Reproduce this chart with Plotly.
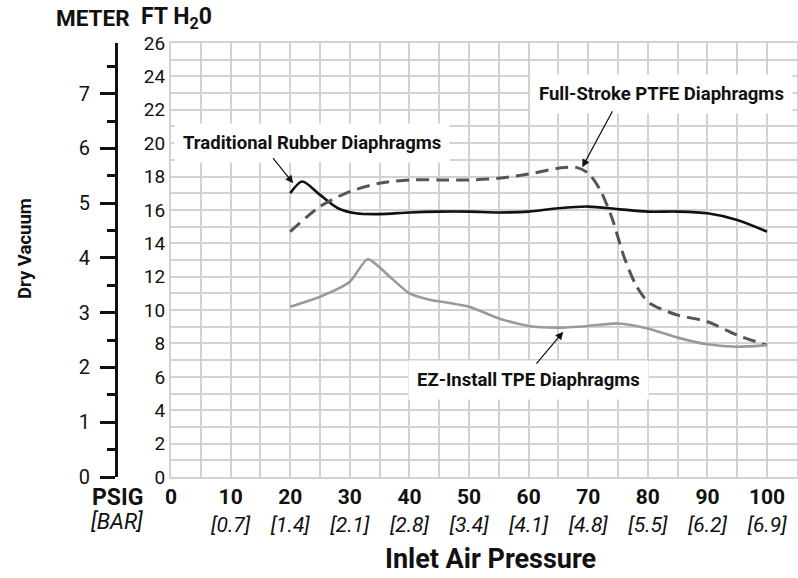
import plotly.graph_objects as go

FONT = "Roboto, Liberation Sans, sans-serif"

# ---- data (x = inlet air pressure, PSIG; y = dry vacuum, FT H2O) ----
rubber_psig = [20, 22, 25, 28, 31, 35, 40, 45, 50, 55, 60, 65, 70, 75, 80, 85, 90, 95, 100]
rubber_ft = [17.0, 17.7, 16.9, 16.1, 15.8, 15.75, 15.85, 15.9, 15.9, 15.85, 15.9, 16.1, 16.2, 16.05, 15.9, 15.9, 15.8, 15.4, 14.7]

ptfe_psig = [20, 25, 30, 35, 40, 45, 50, 55, 60, 65, 68, 70, 72, 74, 76, 78, 80, 82, 85, 90, 95, 100]
ptfe_ft = [14.7, 16.2, 17.1, 17.6, 17.8, 17.8, 17.8, 17.9, 18.15, 18.5, 18.55, 18.2, 17.2, 15.5, 13.2, 11.5, 10.5, 10.1, 9.7, 9.3, 8.5, 7.9]

ez_psig = [20, 25, 30, 33, 37, 40, 43, 50, 55, 60, 65, 70, 75, 80, 85, 90, 95, 100]
ez_ft = [10.2, 10.8, 11.7, 13.05, 11.9, 11.0, 10.65, 10.2, 9.5, 9.05, 8.95, 9.05, 9.2, 8.9, 8.35, 7.95, 7.8, 7.9]

psig_ticks = [0, 10, 20, 30, 40, 50, 60, 70, 80, 90, 100]
bar_labels = ["", "[0.7]", "[1.4]", "[2.1]", "[2.8]", "[3.4]", "[4.1]", "[4.8]", "[5.5]", "[6.2]", "[6.9]"]
ft_ticks = [0, 2, 4, 6, 8, 10, 12, 14, 16, 18, 20, 22, 24, 26]
FT_PER_METER = 3.28084

tick_text = [f"<b>{p}</b><br><i>{b}</i>" if b else f"<b>{p}</b><br> " for p, b in zip(psig_ticks, bar_labels)]

fig = go.Figure()
fig.add_trace(go.Scatter(x=rubber_psig, y=rubber_ft, mode="lines", name="Traditional Rubber Diaphragms",
                         line=dict(color="#111111", width=2.6, shape="spline", smoothing=0.8)))
fig.add_trace(go.Scatter(x=ptfe_psig, y=ptfe_ft, mode="lines", name="Full-Stroke PTFE Diaphragms",
                         line=dict(color="#555555", width=3, dash="13px,7px", shape="spline", smoothing=0.8)))
fig.add_trace(go.Scatter(x=ez_psig, y=ez_ft, mode="lines", name="EZ-Install TPE Diaphragms",
                         line=dict(color="#9a9a9a", width=2.6, shape="spline", smoothing=0.6)))
# invisible trace to activate meter axis
fig.add_trace(go.Scatter(x=[None], y=[None], yaxis="y2", showlegend=False, hoverinfo="skip"))

GRID = "#d2d2d2"
fig.update_layout(
    width=798, height=578,
    margin=dict(l=116, r=1, t=43, b=101),
    paper_bgcolor="white", plot_bgcolor="white",
    showlegend=False,
    font=dict(family=FONT, color="#111111"),
    xaxis=dict(domain=[0.0808, 1], range=[0, 105.03], tickmode="array", tickvals=psig_ticks,
               ticktext=tick_text, tickfont=dict(size=21, family=FONT), ticks="", ticklen=0,
               showgrid=True, gridcolor=GRID, gridwidth=2,
               minor=dict(tickmode="linear", tick0=0, dtick=5, showgrid=True, gridcolor=GRID, gridwidth=2),
               showline=True, linecolor=GRID, linewidth=2, mirror=True, zeroline=False,
               automargin=False),
    yaxis=dict(range=[0, 26], tickmode="array", tickvals=ft_ticks, tickfont=dict(size=19, family=FONT),
               ticks="", showgrid=True, gridcolor=GRID, gridwidth=2,
               minor=dict(tickmode="linear", tick0=0, dtick=1, showgrid=True, gridcolor=GRID, gridwidth=2),
               showline=True, linecolor=GRID, linewidth=2, mirror=True, zeroline=False, automargin=False),
    yaxis2=dict(overlaying="y", anchor="free", position=0, side="left",
                range=[0, 26 / FT_PER_METER], tickmode="linear", tick0=0, dtick=1,
                ticks="outside", ticklen=15, tickwidth=3, tickcolor="#111111",
                minor=dict(ticks="outside", ticklen=8, tickwidth=3, tickcolor="#111111", dtick=0.5, tick0=0),
                showline=True, linewidth=3, linecolor="#111111", showgrid=False, zeroline=False,
                tickfont=dict(size=20, family=FONT), ticklabelstandoff=6, automargin=False),
)

ann_font = dict(size=18.5, family=FONT, color="#111111")
# label boxes
fig.add_annotation(x=23.7, y=20.0, xref="x", yref="y", text="<b>Traditional Rubber Diaphragms</b>",
                   showarrow=False, bgcolor="white", borderpad=8, font=ann_font)
fig.add_annotation(x=82.3, y=22.93, xref="x", yref="y", text="<b>Full-Stroke PTFE Diaphragms</b>",
                   showarrow=False, bgcolor="white", borderpad=8, font=ann_font)
fig.add_annotation(x=59.9, y=5.8, xref="x", yref="y", text="<b>EZ-Install TPE Diaphragms</b>",
                   showarrow=False, bgcolor="white", borderpad=8, font=ann_font)
# arrows
for tip, tail in [((20.5, 17.6), (16.9, 19.2)), ((69.0, 18.56), (74.2, 22.0)), ((65.8, 8.7), (61.1, 6.7))]:
    fig.add_annotation(x=tip[0], y=tip[1], ax=tail[0], ay=tail[1], xref="x", yref="y",
                       axref="x", ayref="y", text="", showarrow=True, arrowhead=2,
                       arrowsize=1.3, arrowwidth=1.2, arrowcolor="#111111", standoff=0)

# header / row labels
def px_x(px):
    return (px - 116) / 681.0

def px_y(py):
    return (477 - py) / 434.0

def label(px, py, text, size, angle=0):
    fig.add_annotation(x=px_x(px), y=px_y(py), xref="paper", yref="paper", text=text,
                       xanchor="center", yanchor="middle", textangle=angle, borderpad=0,
                       showarrow=False, font=dict(size=size, family=FONT, color="#111111"))

label(93, 18, "<b>METER</b>", 22.5)
label(176, 18, "<b>FT H<sub>2</sub>0</b>", 23)
label(117, 497, "<b>PSIG</b>", 23)
label(117, 521, "<i>[BAR]</i>", 22)
label(25, 248, "<b>Dry Vacuum</b>", 18.5, -90)
label(491, 559, "<b>Inlet Air Pressure</b>", 27)

fig.write_html("out.html", post_script="document.body.style.margin='0';",
               config={"displayModeBar": False})
